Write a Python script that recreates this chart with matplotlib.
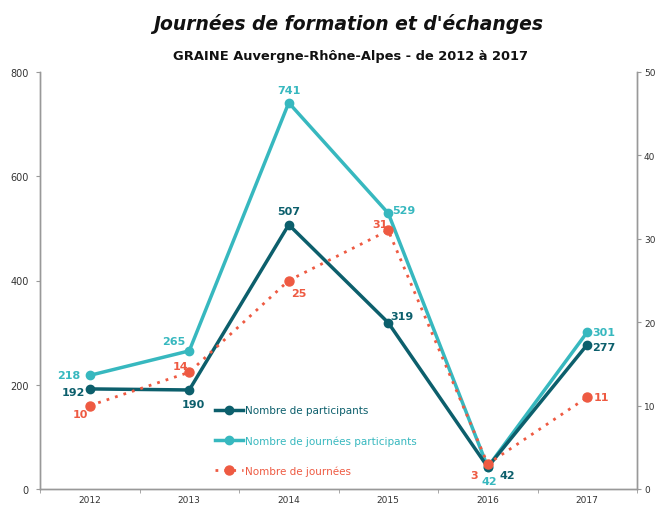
import matplotlib
matplotlib.use("Agg")
import matplotlib.pyplot as plt
import numpy as np

years = ["2012", "2013", "2014", "2015", "2016", "2017"]
participants = [192, 190, 507, 319, 42, 277]
journees_participants = [218, 265, 741, 529, 42, 301]
journees = [10, 14, 25, 31, 3, 11]

c_dark = "#0c5f6c"
c_light = "#37b8bf"
c_red = "#ee5a42"

fig = plt.figure(figsize=(6.56, 5.06), dpi=100)
ax = fig.add_axes([40/656, 16/506, 597/656, 417/506])
ax2 = ax.twinx()

x = np.arange(len(years))
l1, = ax.plot(x, participants, color=c_dark, lw=2.5, marker="o", ms=6, label="Nombre de participants", zorder=3)
l2, = ax.plot(x, journees_participants, color=c_light, lw=2.5, marker="o", ms=6, label="Nombre de journées participants", zorder=2)
l3, = ax2.plot(x, journees, color=c_red, lw=2, ls=(0, (1, 2.2)), marker="o", ms=6.5, label="Nombre de journées", zorder=4)

ax.set_xlim(-0.5, 5.5)
ax.set_ylim(0, 800)
ax2.set_ylim(0, 50)
ax.set_yticks(range(0, 801, 200))
ax2.set_yticks(range(0, 51, 10))
ax.set_xticks(x)
ax.set_xticklabels(years)
ax.set_xticks(np.arange(-0.5, 5.6, 1), minor=True)
ax.tick_params(axis="x", which="major", length=0, pad=4, labelsize=6.5, colors="#333333")
ax.tick_params(axis="x", which="minor", length=3, color="#999999", direction="out")
ax.tick_params(axis="y", length=3, color="#999999", labelsize=7, labelcolor="#333333", pad=5)
ax2.tick_params(axis="y", length=3, color="#999999", labelsize=6.5, labelcolor="#333333", pad=2)

for a in (ax, ax2):
    a.spines["top"].set_visible(False)
    for s in ("left", "right", "bottom"):
        a.spines[s].set_color("#999999")
        a.spines[s].set_linewidth(1)
ax2.patch.set_visible(False)

lab_font = dict(fontsize=8, fontweight="bold", family="DejaVu Sans")

def lbl(axis, xi, yi, txt, color, dx, dy, ha="center"):
    axis.annotate(txt, (xi, yi), xytext=(dx, dy), textcoords="offset points",
                  ha=ha, va="center", color=color, **lab_font)

# participants
off_p = [(-12, -2), (3, -10), (0, 10), (10, 5), (14, -6), (12, -2)]
for i, v in enumerate(participants):
    lbl(ax, x[i], v, str(v), c_dark, *off_p[i])
# journees participants
off_jp = [(-15, 0), (-11, 7), (0, 9), (11, 2), (1, -10), (12, 0)]
for i, v in enumerate(journees_participants):
    lbl(ax, x[i], v, str(v), c_light, *off_jp[i])
# journees
off_j = [(-7, -6), (-6, 4.5), (7, -9), (-6, 4.5), (-10, -8), (10, 0)]
for i, v in enumerate(journees):
    lbl(ax2, x[i], v, str(v), c_red, *off_j[i])

leg = ax.legend(handles=[l1, l2, l3], loc="upper left", bbox_to_anchor=(0.277, 0.223),
                frameon=False, fontsize=7.5, labelspacing=1.9, handlelength=2.7,
                handletextpad=0.2, labelcolor=[c_dark, c_light, c_red])

fig.text(0.53, 0.952, "Journées de formation et d'échanges", ha="center", va="center",
         fontsize=13.5, fontweight="heavy", fontstyle="italic", family="DejaVu Sans", color="#111111")
fig.text(0.535, 0.888, "GRAINE Auvergne-Rhône-Alpes - de 2012 à 2017", ha="center", va="center",
         fontsize=9.4, fontweight="bold", family="DejaVu Sans", color="#111111")

fig.savefig("out.png", dpi=100)
